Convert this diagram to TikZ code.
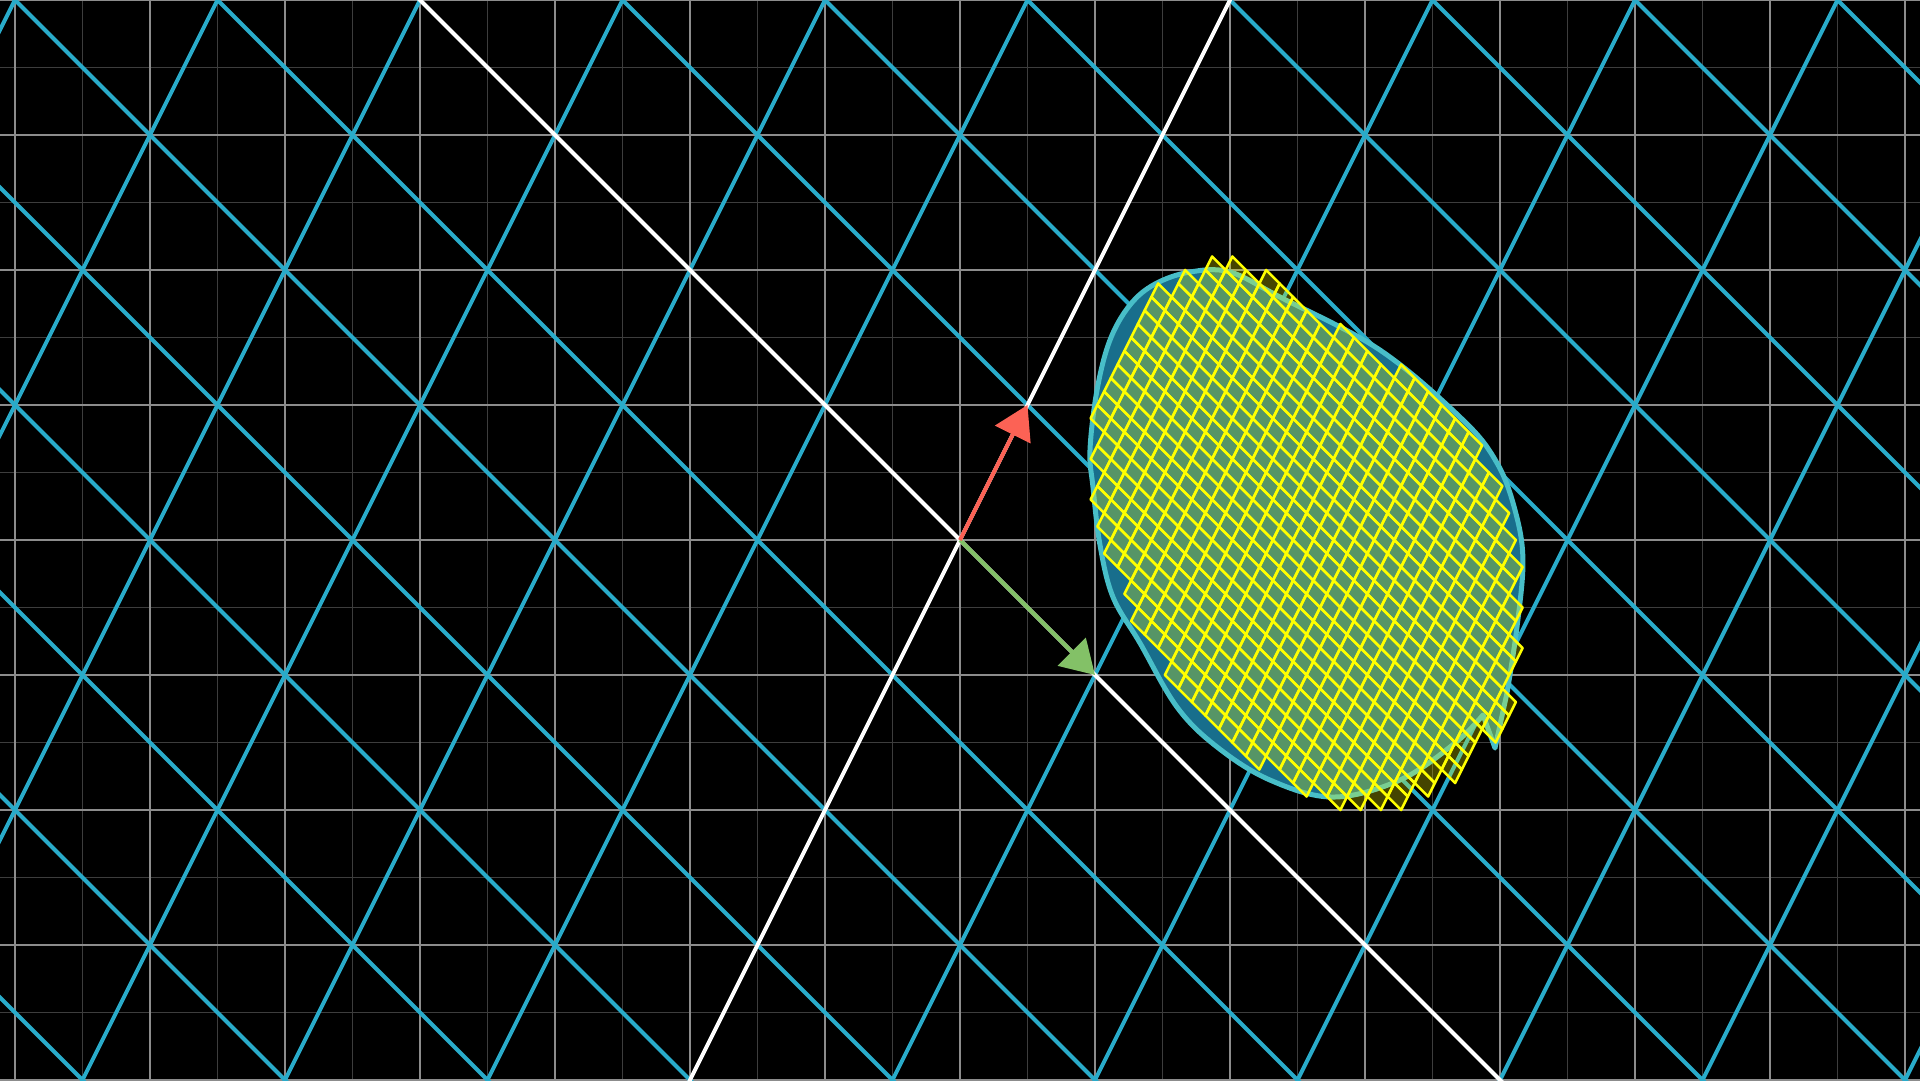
\documentclass[tikz,border=0pt]{standalone}
\usepackage{tikz}
\usetikzlibrary{arrows.meta}
\definecolor{planeblue}{RGB}{41,171,202}
\definecolor{blobfill}{RGB}{24,110,140}
\definecolor{blobline}{RGB}{72,190,200}
\definecolor{ihatgreen}{RGB}{131,193,103}
\definecolor{jhatred}{RGB}{252,98,85}
\definecolor{cellyellow}{RGB}{255,255,0}

\begin{document}
\begin{tikzpicture}[x=135pt,y=135pt,
  gridminor/.style={draw=white!24!black,line width=1.3pt},
  gridmajor/.style={draw=white!55!black,line width=2pt},
  planeline/.style={draw=planeblue,line width=4pt},
  axisline/.style={draw=white,line width=4pt},
  blob/.style={draw=blobline,fill=blobfill,line width=5pt,line join=round},
  cell/.style={draw=cellyellow,fill=cellyellow,fill opacity=0.27,line width=2.6pt,line join=round},
  vec/.style={line width=4pt,-{Triangle[length=33pt,width=39pt]}}]
\useasboundingbox (-7.1111,-4) rectangle (7.1111,4);
\clip (-7.1111,-4) rectangle (7.1111,4);
% objects at depth 300:
\path[fill=black] (-7.2,-4.1) rectangle (7.2,4.1);
\path[gridminor,step=0.5] (-7.5,-4.5) grid (7.5,4.5);
\path[gridmajor,step=1] (-7.5,-4.5) grid (7.5,4.5);
% objects at depth 200:
\foreach \k in {-7,...,7}{
  \ifnum\k=0 \else
    \path[planeline] ({1.5*\k+6},-6) -- ({1.5*\k-6},6);
  \fi
}
\foreach \k in {-6,...,6}{
  \ifnum\k=0 \else
    \path[planeline] ({(3*\k-6)/2},-6) -- ({(3*\k+6)/2},6);
  \fi
}
\path[axisline] (6,-6) -- (-6,6);
\path[axisline] (-3,-6) -- (3,6);
% objects at depth 100:
\coordinate (origin) at (0,0);
\coordinate (ihat) at (1,-1);
\coordinate (jhat) at (0.5,1);
\draw[vec,ihatgreen] (origin) -- (ihat);
\draw[vec,jhatred] (origin) -- (jhat);
% objects at depth 50:
\path[blob] plot[smooth,tension=0.6] coordinates {
  (4.052,-1.133) (4.126,-0.644) (4.170,-0.148) (4.111,0.222)
  (3.978,0.570) (3.726,0.889) (3.111,1.407) (2.370,1.800)
  (2.000,1.985) (1.704,1.985) (1.444,1.896) (1.259,1.741)
  (1.111,1.481) (1.015,1.111) (0.963,0.667) (0.985,0.393)
  (1.037,-0.037) (1.133,-0.422) (1.333,-0.763) (1.607,-1.237)
  (1.904,-1.533) (2.296,-1.778) (2.763,-1.904) (3.259,-1.778)
  (3.667,-1.504) (3.874,-1.296)} -- (3.963,-1.541) -- cycle;
% objects at depth 0:
\begin{scope}[cm={1,-1,0.5,1,(0,0)}]
\foreach \i in {0,...,33}{
  \foreach \j in {0,...,33}{
    \pgfmathsetmacro{\ua}{0.045+\i/10}
    \pgfmathsetmacro{\va}{0.045+\j/10}
    \pgfmathsetmacro{\du}{\ua+0.05-1.703}
    \pgfmathsetmacro{\dv}{\va+0.05-1.748}
    \pgfmathtruncatemacro{\inside}{and((\du)*(\du)+(\dv)*(\dv)<1.96, -0.454*(\ua+0.05)+2.0905*(\va+0.05)<5.45)}
    \ifnum\inside=1
      \path[cell] (\ua,\va) -- ({\ua+0.1},\va) -- ({\ua+0.1},{\va+0.1}) -- (\ua,{\va+0.1}) -- cycle;
    \fi
  }
}
\end{scope}
\end{tikzpicture}
\end{document}
